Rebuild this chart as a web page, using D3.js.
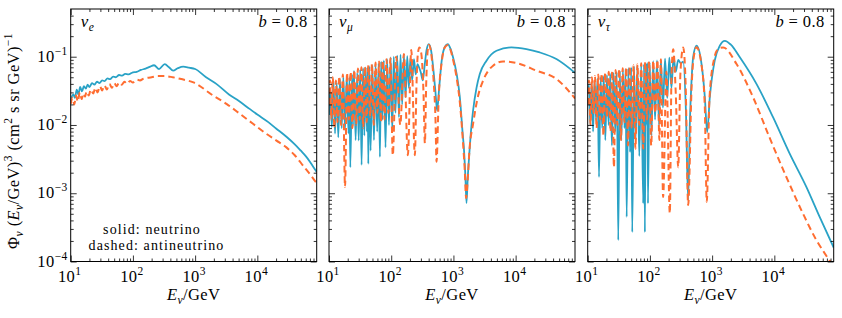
<!DOCTYPE html>
<html>
<head>
<meta charset="utf-8">
<script src="https://cdn.jsdelivr.net/npm/d3@7"></script>
<style>
body { margin: 0; background: #fff; }
text { font-family: "Liberation Serif", serif; fill: #000; letter-spacing: 0.4px; }
</style>
</head>
<body>
<div id="chart"></div>
<script>
const width = 842
const height = 318
const panel_left = [70.7, 329, 587.7]
const panel_width = 246
const panel_top = 9
const panel_bottom = 261.5
const color_nu = '#29a2c6'
const color_nubar = '#ff6d31'
const font_main = 16.5
const font_small = 11.5

// flux values [E_nu in GeV, Phi * E^3]
const nue_nu = [[10, 0.0228], [11, 0.028], [11.7, 0.025], [12.5, 0.033], [13.3, 0.028], [14.2, 0.036], [15.2, 0.031],
    [16.3, 0.037], [17.5, 0.034], [18.7, 0.039], [20, 0.036], [22, 0.041], [24, 0.039], [26.5, 0.043], [29, 0.041],
    [32, 0.045], [35, 0.044], [39, 0.048], [43, 0.047], [48, 0.051], [53, 0.05], [60, 0.054], [67, 0.053], [75, 0.056],
    [85, 0.055], [100, 0.059], [115, 0.06], [135, 0.064], [160, 0.067], [186, 0.071], [219, 0.075], [263, 0.066],
    [325, 0.078], [380, 0.07], [443, 0.0625], [530, 0.068], [645, 0.0714], [800, 0.069], [1000, 0.066], [1500, 0.05],
    [2190, 0.04], [3500, 0.028], [5000, 0.0226], [7500, 0.0172], [10000, 0.0142], [15000, 0.011], [20000, 0.0089],
    [30000, 0.0066], [40000, 0.0052], [50000, 0.0042], [60000, 0.0035], [70000, 0.0029], [80000, 0.0024], [90000, 0.00205]]

const nue_nubar = [[10, 0.0204], [10.7, 0.025], [11.4, 0.02], [12.2, 0.027], [13, 0.022], [14, 0.03], [15, 0.024],
    [16, 0.029], [17, 0.026], [18, 0.031], [19.5, 0.027], [21, 0.033], [23, 0.029], [25, 0.035], [27, 0.03],
    [29.5, 0.037], [32, 0.032], [35, 0.038], [38, 0.033], [42, 0.04], [46, 0.035], [50, 0.041], [55, 0.037],
    [60, 0.042], [66, 0.039], [73, 0.043], [80, 0.04], [90, 0.044], [100, 0.042], [115, 0.046], [130, 0.045],
    [150, 0.048], [200, 0.05], [250, 0.052], [330, 0.052], [437, 0.05], [600, 0.047], [940, 0.042], [1945, 0.027],
    [3190, 0.0204], [5220, 0.0146], [8530, 0.0104], [14000, 0.0074], [20300, 0.0059], [29300, 0.0047],
    [40000, 0.0036], [55000, 0.0025], [70000, 0.0019], [90000, 0.0014]]

const numu_nu = [[10, 0.014], [10.5, 0.035], [11.1, 0.0093], [11.8, 0.045], [12.5, 0.0075], [13.3, 0.042], [14.1, 0.0066],
    [15, 0.047], [16, 0.009], [17, 0.05], [18.1, 0.0085], [19.3, 0.052], [20.6, 0.0075], [21.3, 0.05], [22, 0.0024],
    [23.5, 0.055], [24.3, 0.01], [25.2, 0.062], [26.8, 0.006], [28.5, 0.058], [30, 0.0059], [31.8, 0.065], [33.4, 0.0026],
    [35.3, 0.068], [37, 0.007], [38.7, 0.07], [40.7, 0.008], [41.8, 0.07], [42.8, 0.0027], [44.6, 0.072], [46.6, 0.0042],
    [49.8, 0.075], [52.8, 0.006], [56, 0.078], [59.5, 0.008], [62.8, 0.08], [65.8, 0.0034], [68.8, 0.085], [72.2, 0.012],
    [76.2, 0.088], [81, 0.0047], [86, 0.092], [92, 0.01], [98, 0.098], [104, 0.0083], [110, 0.1], [117, 0.015],
    [125, 0.104], [133, 0.013], [141, 0.107], [150, 0.02], [160, 0.105], [170, 0.0255], [181, 0.102], [192, 0.035],
    [204, 0.097], [217, 0.045], [232, 0.092], [248, 0.055], [265, 0.078], [280, 0.07], [300, 0.058], [322, 0.045],
    [345, 0.075], [370, 0.125], [402, 0.153], [440, 0.12], [480, 0.06], [515, 0.03], [547, 0.0163], [590, 0.035],
    [650, 0.09], [730, 0.14], [811, 0.153], [900, 0.13], [988, 0.0977], [1130, 0.055], [1268, 0.0255], [1400, 0.008],
    [1470, 0.0047], [1560, 0.0017], [1622, 0.00072], [1700, 0.0017], [1786, 0.0034], [1900, 0.0075], [2070, 0.0163],
    [2350, 0.035], [2653, 0.0558], [3400, 0.0875], [4920, 0.1224], [8570, 0.137], [14900, 0.1295], [24400, 0.1156],
    [45200, 0.0925], [90000, 0.058]]

const numu_nubar = [[10, 0.02], [10.4, 0.045], [10.9, 0.012], [11.5, 0.05], [12.2, 0.009], [12.9, 0.045], [13.7, 0.011],
    [14.6, 0.052], [15.6, 0.01], [16.7, 0.055], [18.1, 0.00124], [19.5, 0.058], [20.8, 0.012], [22.3, 0.06], [23.8, 0.009],
    [25.5, 0.064], [27.3, 0.01], [29.2, 0.067], [31.2, 0.012], [33.2, 0.07], [35.5, 0.009], [37.8, 0.072], [40.3, 0.011],
    [43, 0.075], [46, 0.013], [49, 0.078], [52.5, 0.01], [56, 0.082], [60, 0.015], [64, 0.085], [68.5, 0.011], [73, 0.088],
    [78, 0.012], [84, 0.092], [90, 0.015], [97, 0.095], [106, 0.0036], [120, 0.1], [140, 0.01], [160, 0.11], [185, 0.0036],
    [210, 0.125], [240, 0.0036], [255, 0.04], [268, 0.11], [284, 0.137], [305, 0.11], [330, 0.03], [348, 0.0054],
    [365, 0.04], [382, 0.11], [402, 0.15], [440, 0.11], [480, 0.045], [515, 0.012], [535, 0.0029], [580, 0.025],
    [650, 0.085], [730, 0.138], [811, 0.148], [900, 0.125], [988, 0.09], [1130, 0.048], [1268, 0.0215], [1400, 0.007],
    [1520, 0.0022], [1600, 0.00085], [1700, 0.0016], [1800, 0.004], [2070, 0.0104], [2500, 0.027], [3000, 0.0447],
    [4340, 0.074], [6280, 0.0853], [10300, 0.081], [21600, 0.0625], [45200, 0.0472], [90000, 0.0245]]

const nutau_nu = [[10, 0.03], [10.5, 0.038], [11, 0.01], [11.6, 0.042], [12.2, 0.008], [12.9, 0.045], [13.6, 0.012],
    [14.4, 0.048], [15.2, 0.00173], [16.1, 0.05], [17.1, 0.009], [18.1, 0.052], [19.2, 0.006], [20.4, 0.054], [21.7, 0.01],
    [23, 0.056], [24.5, 0.005], [26, 0.058], [27.7, 0.008], [29.3, 0.06], [31, 0.000206], [32.8, 0.062], [34.7, 0.006],
    [36.8, 0.064], [39, 0.009], [40.7, 0.066], [42.3, 0.00045], [45, 0.068], [48, 0.004], [50, 0.07], [52, 0.00027],
    [55.5, 0.072], [59, 0.006], [63, 0.074], [67.5, 0.0035], [72.5, 0.076], [78, 0.00071], [80.5, 0.078], [83, 0.00027],
    [86, 0.08], [89.5, 0.01], [91.5, 0.081], [93, 0.00071], [99, 0.083], [106, 0.007], [113, 0.086], [121, 0.012],
    [130, 0.088], [140, 0.01], [150, 0.09], [162, 0.018], [175, 0.094], [190, 0.025], [205, 0.097], [222, 0.035],
    [240, 0.1], [260, 0.06], [285, 0.09], [315, 0.08], [343, 0.085], [380, 0.015], [412, 0.00079], [440, 0.012],
    [467, 0.0447], [495, 0.098], [562, 0.145], [676, 0.078], [764, 0.0255], [832, 0.00785], [918, 0.0255], [1100, 0.0877],
    [1330, 0.145], [1600, 0.171], [2000, 0.15], [2790, 0.098], [5160, 0.04], [9530, 0.013], [17650, 0.0038],
    [32700, 0.00124], [53500, 0.00045], [90000, 0.00016]]

const nutau_nubar = [[10, 0.02], [10.5, 0.045], [11.1, 0.01], [11.7, 0.05], [12.4, 0.015], [13.1, 0.052], [13.9, 0.009],
    [14.8, 0.055], [15.8, 0.012], [16.8, 0.057], [17.9, 0.007], [19.1, 0.058], [20.4, 0.013], [21.8, 0.06], [23.3, 0.008],
    [24.8, 0.062], [26.4, 0.0024], [28.1, 0.064], [30, 0.01], [32, 0.066], [34.2, 0.006], [36.5, 0.068], [39, 0.011],
    [41.7, 0.07], [44.5, 0.005], [47.5, 0.072], [51, 0.009], [54.5, 0.075], [58.5, 0.0045], [63, 0.078], [67.5, 0.01],
    [72.5, 0.08], [78, 0.0045], [84, 0.083], [90, 0.012], [97, 0.085], [105, 0.005], [113, 0.088], [122, 0.015],
    [132, 0.09], [142, 0.006], [150, 0.092], [163, 0.00088], [184, 0.06], [209, 0.00051], [222, 0.05], [237, 0.129],
    [260, 0.03], [285, 0.0024], [310, 0.06], [343, 0.137], [375, 0.04], [412, 0.00067], [470, 0.04], [500, 0.09],
    [562, 0.138], [676, 0.075], [760, 0.02], [820, 0.00075], [908, 0.0255], [1090, 0.0977], [1250, 0.13], [1500, 0.137],
    [2470, 0.078], [4550, 0.0255], [8340, 0.0066], [15600, 0.00173], [28800, 0.000506], [47400, 0.000206],
    [64400, 0.000132], [80400, 0.000098], [90000, 0.000085]]

const flavours = ['e', 'μ', 'τ']
const series_nu = [nue_nu, numu_nu, nutau_nu]
const series_nubar = [nue_nubar, numu_nubar, nutau_nubar]
const b_value = '0.8'
const legend_lines = ['solid: neutrino', 'dashed: antineutrino']
const x_domain = [10, 9e4]
const y_domain = [1e-4, 0.5]
const x_major = [1e1, 1e2, 1e3, 1e4]
const x_exponents = ['1', '2', '3', '4']
const y_major = [1e-4, 1e-3, 1e-2, 1e-1]
const y_exponents = ['−4', '−3', '−2', '−1']

const svg = d3.select('#chart')
    .append('svg')
    .attr('width', width)
    .attr('height', height)

function minor_ticks(domain) {
    const ticks = []
    for (let e = -5; e <= 5; e++) {
        for (let k = 2; k <= 9; k++) {
            const v = k * Math.pow(10, e)
            if (v > domain[0] && v < domain[1]) ticks.push(v)
        }
    }
    return ticks
}

function power_text(sel, exp) {
    sel.append('tspan').text('10')
    sel.append('tspan').attr('dy', -7).attr('font-size', font_small).text(exp)
}

function draw_ticks(g, axis, scale, values, size, translate) {
    g.append('g')
        .attr('transform', translate)
        .call(axis(scale).tickValues(values).tickSize(-size).tickSizeOuter(0).tickFormat(''))
        .call(s => s.select('.domain').remove())
        .call(s => s.selectAll('line').attr('stroke', '#000').attr('stroke-width', 0.8))
}

function draw_panel(i) {
    const left = panel_left[i]
    const right = left + panel_width
    const x = d3.scaleLog().domain(x_domain).range([left, right])
    const y = d3.scaleLog().domain(y_domain).range([panel_bottom, panel_top])
    const g = svg.append('g')

    g.append('clipPath')
        .attr('id', 'clip' + i)
        .append('rect')
        .attr('x', left)
        .attr('y', panel_top)
        .attr('width', panel_width)
        .attr('height', panel_bottom - panel_top)

    const line_generator = d3.line()
        .x(d => x(d[0]))
        .y(d => y(d[1]))
        .curve(d3.curveMonotoneX)

    const lines = g.append('g').attr('clip-path', `url(#clip${i})`)
    lines.append('path')
        .attr('d', line_generator(series_nu[i]))
        .attr('stroke', color_nu)
        .attr('stroke-width', 1.8)
        .attr('fill', 'none')
    lines.append('path')
        .attr('d', line_generator(series_nubar[i]))
        .attr('stroke', color_nubar)
        .attr('stroke-width', 2)
        .attr('stroke-dasharray', '6.5,4')
        .attr('fill', 'none')

    // ticks on all four sides, pointing inwards
    const x_minor = minor_ticks(x_domain)
    const y_minor = minor_ticks(y_domain)
    draw_ticks(g, d3.axisBottom, x, x_major, 6, `translate(0,${panel_bottom})`)
    draw_ticks(g, d3.axisBottom, x, x_minor, 3, `translate(0,${panel_bottom})`)
    draw_ticks(g, d3.axisTop, x, x_major, 6, `translate(0,${panel_top})`)
    draw_ticks(g, d3.axisTop, x, x_minor, 3, `translate(0,${panel_top})`)
    draw_ticks(g, d3.axisLeft, y, y_major, 6, `translate(${left},0)`)
    draw_ticks(g, d3.axisLeft, y, y_minor, 3, `translate(${left},0)`)
    draw_ticks(g, d3.axisRight, y, y_major, 6, `translate(${right},0)`)
    draw_ticks(g, d3.axisRight, y, y_minor, 3, `translate(${right},0)`)

    g.append('rect')
        .attr('x', left)
        .attr('y', panel_top)
        .attr('width', panel_width)
        .attr('height', panel_bottom - panel_top)
        .attr('fill', 'none')
        .attr('stroke', '#000')
        .attr('stroke-width', 1)

    // x tick labels
    x_major.forEach((v, k) => {
        g.append('text')
            .attr('x', x(v) - 1)
            .attr('y', 282)
            .attr('text-anchor', 'middle')
            .attr('font-size', font_main)
            .call(power_text, x_exponents[k])
    })

    // y tick labels, first panel only
    if (i === 0) {
        y_major.forEach((v, k) => {
            g.append('text')
                .attr('x', left - 3)
                .attr('y', y(v) + 5)
                .attr('text-anchor', 'end')
                .attr('font-size', font_main)
                .call(power_text, y_exponents[k])
        })
    }

    // x axis label
    const xl = g.append('text')
        .attr('x', (left + right) / 2)
        .attr('y', 300)
        .attr('text-anchor', 'middle')
        .attr('font-size', font_main)
    xl.append('tspan').attr('font-style', 'italic').text('E')
    xl.append('tspan').attr('font-style', 'italic').attr('font-size', font_small).attr('dy', 3.5).text('ν')
    xl.append('tspan').attr('dy', -3.5).text('/GeV')

    // flavour label
    const fl = g.append('text')
        .attr('x', left + 10)
        .attr('y', 27)
        .attr('font-size', 17)
    fl.append('tspan').attr('font-style', 'italic').text('ν')
    fl.append('tspan').attr('font-style', 'italic').attr('font-size', font_small).attr('dy', 3.5).text(flavours[i])

    // b value
    const bl = g.append('text')
        .attr('x', right - 9)
        .attr('y', 27)
        .attr('text-anchor', 'end')
        .attr('font-size', font_main)
    bl.append('tspan').attr('font-style', 'italic').text('b')
    bl.append('tspan').text(' = ' + b_value)

    if (i === 0) {
        g.selectAll('.legend')
            .data(legend_lines)
            .enter()
            .append('text')
            .attr('class', 'legend')
            .attr('x', (d, k) => k === 0 ? 152 : 156.5)
            .attr('y', (d, k) => k === 0 ? 234 : 250)
            .attr('text-anchor', 'middle')
            .attr('font-size', 14)
            .style('letter-spacing', '1.1px')
            .text(d => d)
    }
}

for (let i = 0; i < 3; i++) draw_panel(i)

// y axis label
const yl = svg.append('text')
    .attr('transform', 'translate(19,141) rotate(-90)')
    .attr('text-anchor', 'middle')
    .attr('font-size', font_main)
yl.append('tspan').text('Φ')
yl.append('tspan').attr('font-style', 'italic').attr('font-size', font_small).attr('dy', 3.5).text('ν')
yl.append('tspan').attr('dy', -3.5).text(' (')
yl.append('tspan').attr('font-style', 'italic').text('E')
yl.append('tspan').attr('font-style', 'italic').attr('font-size', font_small).attr('dy', 3.5).text('ν')
yl.append('tspan').attr('dy', -3.5).text('/GeV)')
yl.append('tspan').attr('font-size', font_small).attr('dy', -7).text('3')
yl.append('tspan').attr('dy', 7).text(' (cm')
yl.append('tspan').attr('font-size', font_small).attr('dy', -7).text('2')
yl.append('tspan').attr('dy', 7).text(' s sr GeV)')
yl.append('tspan').attr('font-size', font_small).attr('dy', -7).text('−1')
</script>
</body>
</html>
